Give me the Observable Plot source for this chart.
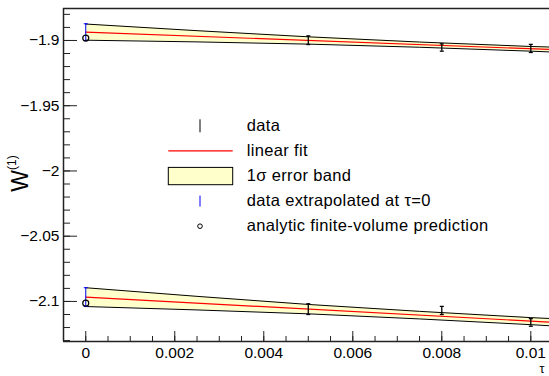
<!DOCTYPE html>
<html><head><meta charset="utf-8">
<script src="https://cdn.jsdelivr.net/npm/d3@7"></script>
<script src="https://cdn.jsdelivr.net/npm/@observablehq/plot@0.6"></script>
<style>
html,body{margin:0;padding:0;background:#fff;overflow:hidden}
#chart{position:relative;width:549px;height:376px}
svg{display:block}
</style></head><body><div id="chart"></div>
<script>
// ---- data ----
const tauData = [0.005, 0.008, 0.01];
const upperW = [-1.8998, -1.9054, -1.9061];
const upperErr = [0.0033, 0.0028, 0.0031];
const lowerW = [-2.1059, -2.1069, -2.1161];
const lowerErr = [0.0041, 0.0031, 0.0029];

const tauBand = [0, 0.0025, 0.005, 0.0075, 0.01, 0.0105];
const upperBandHi = [-1.8874, -1.8925, -1.8972, -1.9012, -1.9046, -1.9051];
const upperBandLo = [-1.8998, -1.9011, -1.9028, -1.9052, -1.9082, -1.9089];
const lowerBandHi = [-2.0895, -2.0961, -2.1023, -2.1076, -2.1124, -2.1132];
const lowerBandLo = [-2.1039, -2.1065, -2.1095, -2.1134, -2.1178, -2.1188];

const tauFit = [0, 0.0105];
const upperFit = [-1.8936, -1.9070];
const lowerFit = [-2.0967, -2.1160];

const tauZero = [0, 0];
const extrapW = [-1.8936, -2.0967];
const extrapErr = [0.0064, 0.0072];
const analyticW = [-1.8982, -2.1013];

const xTicks = [0, 0.002, 0.004, 0.006, 0.008, 0.01];
const yTicks = [-2.1, -2.05, -2, -1.95, -1.9];
const legendLabels = ["data", "linear fit", "1σ error band", "data extrapolated at τ=0", "analytic finite-volume prediction"];
const yTitle = "W";
const yTitleSup = "(1)";
const xTitle = "τ";

// ---- layout ----
const W = 549, H = 376, ML = 63, MT = 8, MB = 35, MR = 0;
const innerW = W - ML - MR, innerH = H - MT - MB;
const xDom = [-0.0005, 0.01042], yDom = [-2.1307, -1.8755];
const xMinor = d3.range(-0.0005, 0.01042, 0.0005).map(v => +v.toFixed(5));
const yMinor = d3.range(-2.13, -1.875, 0.01).map(v => +v.toFixed(3));
const font = "'Liberation Sans', Arial, Helvetica, sans-serif";

const band = (hi, lo) => tauBand.map((t, i) => ({t, hi: hi[i], lo: lo[i]}));
const fit = (vals) => tauFit.map((t, i) => ({t, y: vals[i]}));
const bars = [
  ...tauData.map((t, i) => ({t, y: upperW[i], e: upperErr[i]})),
  ...tauData.map((t, i) => ({t, y: lowerW[i], e: lowerErr[i]}))
];
const ext = tauZero.map((t, i) => ({t, y: extrapW[i], e: extrapErr[i]}));
const ana = tauZero.map((t, i) => ({t, y: analyticW[i]}));
const ends = (arr) => arr.flatMap(d => [{t: d.t, y: d.y - d.e}, {t: d.t, y: d.y + d.e}]);
const cap = {draw(ctx) { ctx.moveTo(-2, 0); ctx.lineTo(2, 0); }};

const svg = Plot.plot({
  width: W, height: H,
  marginLeft: ML, marginRight: MR, marginTop: MT, marginBottom: MB,
  style: {fontFamily: font, fontSize: "15.5px", background: "#fff", color: "#000"},
  x: {domain: xDom, label: null},
  y: {domain: yDom, label: null},
  marks: [
    Plot.areaY(band(upperBandHi, upperBandLo), {x: "t", y1: "lo", y2: "hi", fill: "#ffffcc"}),
    Plot.areaY(band(lowerBandHi, lowerBandLo), {x: "t", y1: "lo", y2: "hi", fill: "#ffffcc"}),
    Plot.line(band(upperBandHi, upperBandLo), {x: "t", y: "hi", stroke: "#000", strokeWidth: 1}),
    Plot.line(band(upperBandHi, upperBandLo), {x: "t", y: "lo", stroke: "#000", strokeWidth: 1}),
    Plot.line(band(lowerBandHi, lowerBandLo), {x: "t", y: "hi", stroke: "#000", strokeWidth: 1}),
    Plot.line(band(lowerBandHi, lowerBandLo), {x: "t", y: "lo", stroke: "#000", strokeWidth: 1}),
    Plot.line(fit(upperFit), {x: "t", y: "y", stroke: "#ff0000", strokeWidth: 1.2}),
    Plot.line(fit(lowerFit), {x: "t", y: "y", stroke: "#ff0000", strokeWidth: 1.2}),
    Plot.ruleX(bars, {x: "t", y1: d => d.y - d.e, y2: d => d.y + d.e, stroke: "#000", strokeWidth: 1.3}),
    Plot.dot(ends(bars), {x: "t", y: "y", symbol: cap, fill: "none", stroke: "#000", strokeWidth: 1.3}),
    Plot.ruleX(ext, {x: "t", y1: d => d.y - d.e, y2: d => d.y + d.e, stroke: "#0000ff", strokeWidth: 1}),
    Plot.dot(ends(ext), {x: "t", y: "y", symbol: cap, fill: "none", stroke: "#0000ff", strokeWidth: 1}),
    Plot.dot(ana, {x: "t", y: "y", r: 3, fill: "none", stroke: "#000", strokeWidth: 1.2}),
    // ticks (inward)
    Plot.tickY(yTicks, {y: d => d, insetRight: innerW - 14, stroke: "#222", strokeWidth: 1}),
    Plot.tickY(yMinor, {y: d => d, insetRight: innerW - 7, stroke: "#222", strokeWidth: 1}),
    Plot.tickX(xTicks, {x: d => d, insetTop: innerH - 10, stroke: "#222", strokeWidth: 1}),
    Plot.tickX(xMinor, {x: d => d, insetTop: innerH - 5, stroke: "#222", strokeWidth: 1}),
    // frame lines
    Plot.ruleX([xDom[0]], {stroke: "#222", strokeWidth: 1.5}),
    Plot.ruleY([yDom[0]], {stroke: "#222", strokeWidth: 1.5}),
    Plot.ruleY([yDom[1]], {stroke: "#222", strokeWidth: 1.5}),
    Plot.axisY({ticks: yTicks, tickSize: 0, tickPadding: 4, tickFormat: d => String(d).replace("-", "\u2212"), label: null}),
    Plot.axisX({ticks: xTicks, tickSize: 0, tickPadding: 5, tickFormat: d => String(d), label: null})
  ]
});
document.getElementById("chart").appendChild(svg);

const s = d3.select(svg);
// y title with superscript
const yt = s.append("text")
  .attr("transform", "translate(28,191.7) rotate(-90)")
  .attr("text-anchor", "start")
  .attr("font-family", font).attr("fill", "#000");
yt.append("tspan").attr("font-size", "23px").text(yTitle);
yt.append("tspan").attr("font-size", "12px").attr("dy", -12.2).text(yTitleSup);
// x title
s.append("text").attr("x", 539.5).attr("y", 373.3).attr("text-anchor", "start").attr("font-family", font)
  .attr("font-size", "12.5px").attr("fill", "#000").text(xTitle);

// legend
const lg = s.append("g").attr("font-family", font).attr("text-anchor", "start");
const rowY = legendLabels.map((_, i) => 125.8 + 25.1 * i);
const symX = 200, x0 = 168.3, x1 = 232.7;
lg.append("line").attr("x1", symX).attr("x2", symX).attr("y1", rowY[0] - 6.5).attr("y2", rowY[0] + 6.5)
  .attr("stroke", "#000").attr("stroke-width", 1);
lg.append("line").attr("x1", x0).attr("x2", x1).attr("y1", rowY[1]).attr("y2", rowY[1])
  .attr("stroke", "#ff0000").attr("stroke-width", 1.2);
lg.append("rect").attr("x", x0).attr("y", rowY[2] - 8.6).attr("width", x1 - x0).attr("height", 17.3)
  .attr("fill", "#ffffcc").attr("stroke", "#000").attr("stroke-width", 1);
lg.append("line").attr("x1", symX).attr("x2", symX).attr("y1", rowY[3] - 5.5).attr("y2", rowY[3] + 5.5)
  .attr("stroke", "#0000ff").attr("stroke-width", 1);
lg.append("circle").attr("cx", symX).attr("cy", rowY[4]).attr("r", 2.3)
  .attr("fill", "none").attr("stroke", "#000").attr("stroke-width", 1);
lg.selectAll("text.lab").data(legendLabels).join("text").attr("class", "lab")
  .attr("x", 246.7).attr("y", (d, i) => rowY[i] + 4.8)
  .attr("font-size", "16.5px").attr("letter-spacing", "0.35px").attr("fill", "#000").text(d => d);
</script>
</body></html>
